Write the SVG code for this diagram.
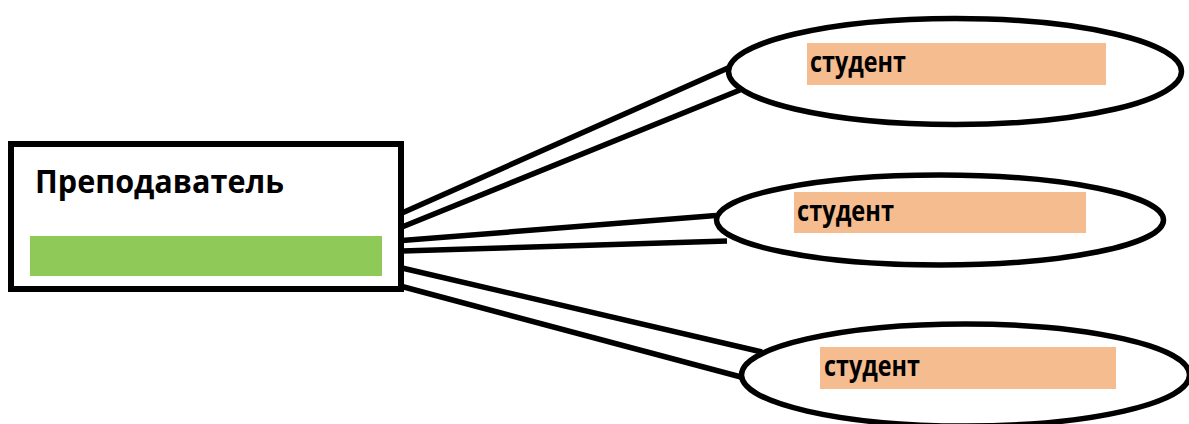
<svg xmlns="http://www.w3.org/2000/svg" width="1189" height="424" viewBox="0 0 1189 424">
<style>
.edge{stroke:#000;stroke-width:5.5;fill:none;stroke-linecap:butt}
.shape{stroke:#000;fill:#fff}
.lbl{font-family:"Open Sans","Liberation Sans",sans-serif;font-weight:bold;fill:#000}
.tag{fill:#F4BC8F}
</style>
<rect width="1189" height="424" fill="#fff"/>
<g id="connectors">
<line class="edge" x1="402" y1="213" x2="728" y2="68"/>
<line class="edge" x1="402" y1="227" x2="740" y2="90"/>
<line class="edge" x1="402" y1="240.5" x2="716" y2="215.5"/>
<line class="edge" x1="402" y1="251" x2="727" y2="241"/>
<line class="edge" x1="402" y1="268" x2="762" y2="352"/>
<line class="edge" x1="402" y1="286.5" x2="741" y2="377"/>
</g>
<g id="teacher">
<rect class="shape" x="11" y="144" width="390" height="145" stroke-width="6"/>
<text class="lbl" x="35" y="193" font-size="32" textLength="249" lengthAdjust="spacingAndGlyphs">Преподаватель</text>
<rect x="30" y="236" width="352" height="40" fill="#8FC957"/>
</g>
<g id="student1">
<ellipse class="shape" cx="955" cy="71.5" rx="226.5" ry="53" stroke-width="5.5"/>
<rect class="tag" x="807" y="43" width="299" height="42"/>
<text class="lbl" x="810" y="72" font-size="29" textLength="96" lengthAdjust="spacingAndGlyphs">студент</text>
</g>
<g id="student2">
<ellipse class="shape" cx="940" cy="220" rx="223.5" ry="45" stroke-width="5.5"/>
<rect class="tag" x="794" y="192" width="292" height="41"/>
<text class="lbl" x="797" y="220.5" font-size="29" textLength="97" lengthAdjust="spacingAndGlyphs">студент</text>
</g>
<g id="student3">
<ellipse class="shape" cx="965.5" cy="375" rx="224" ry="51" stroke-width="5.5"/>
<rect class="tag" x="820" y="347" width="296" height="42"/>
<text class="lbl" x="824" y="376" font-size="29" textLength="96" lengthAdjust="spacingAndGlyphs">студент</text>
</g>
</svg>
